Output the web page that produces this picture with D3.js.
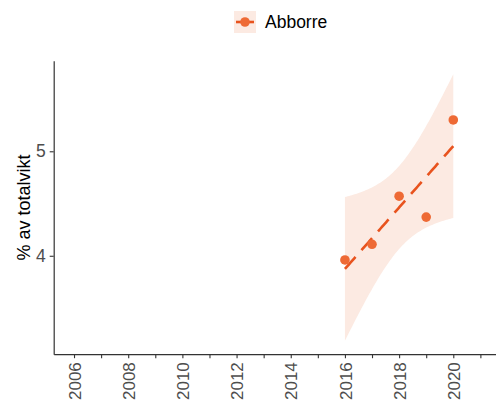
<!DOCTYPE html>
<html>
<head>
<meta charset="utf-8">
<script src="https://cdn.jsdelivr.net/npm/d3@7"></script>
<style>
  html, body { margin: 0; padding: 0; background: #fff; }
  svg { display: block; font-family: "Liberation Sans", Arial, Helvetica, sans-serif; }
</style>
</head>
<body>
<svg id="chart" width="496" height="403"></svg>
<script>
// Observations: share of total weight (%) per year
const seriesName = "Abborre";
const years = [2016, 2017, 2018, 2019, 2020];
const values = [3.96, 4.11, 4.57, 4.37, 5.30];

// Axis setup
const xTickYears = d3.range(2006, 2022);
const xLabelYears = [2006, 2008, 2010, 2012, 2014, 2016, 2018, 2020];
const yTicks = [4, 5];
const yTitle = "% av totalvikt";

// Student t quantile (97.5 %) for n - 2 = 3 degrees of freedom
const T_CRIT = 3.182446;

const pointColor = "#EE6A35";
const lineColor = "#E8531E";
const bandColor = "#FCEAE2";

// Ordinary least squares fit with 95 % confidence band
const n = years.length;
const mx = d3.mean(years), my = d3.mean(values);
const sxx = d3.sum(years, v => (v - mx) ** 2);
const sxy = d3.sum(years.map((v, i) => (v - mx) * (values[i] - my)));
const slope = sxy / sxx;
const intercept = my - slope * mx;
const fit = v => intercept + slope * v;
const sse = d3.sum(years.map((v, i) => (values[i] - fit(v)) ** 2));
const s = Math.sqrt(sse / (n - 2));
const gridX = d3.range(0, 80).map(i => years[0] + (years[n - 1] - years[0]) * i / 79);
const band = gridX.map(v => {
  const se = s * Math.sqrt(1 / n + (v - mx) ** 2 / sxx);
  return { x: v, fit: fit(v), lo: fit(v) - T_CRIT * se, hi: fit(v) + T_CRIT * se };
});

// Scales (5 % padding around the data range)
const xExt = [2006, 2021];
const xPad = (xExt[1] - xExt[0]) * 0.05;
const x = d3.scaleLinear().domain([xExt[0] - xPad, xExt[1] + xPad]).range([53.7, 500.7]);

const yLo = Math.min(d3.min(band, d => d.lo), d3.min(values));
const yHi = Math.max(d3.max(band, d => d.hi), d3.max(values));
const yPad = (yHi - yLo) * 0.05;
const y = d3.scaleLinear().domain([yLo - yPad, yHi + yPad]).range([354.2, 60.8]);

const svg = d3.select("#chart");

// Confidence band
svg.append("path")
  .datum(band)
  .attr("fill", bandColor)
  .attr("d", d3.area().x(d => x(d.x)).y0(d => y(d.lo)).y1(d => y(d.hi)));

// Fitted trend line
svg.append("path")
  .datum(band)
  .attr("fill", "none")
  .attr("stroke", lineColor)
  .attr("stroke-width", 2.6)
  .attr("stroke-dasharray", "16,9")
  .attr("d", d3.line().x(d => x(d.x)).y(d => y(d.fit)));

// Observed points
svg.append("g").selectAll("circle")
  .data(years.map((v, i) => ({ year: v, value: values[i] })))
  .join("circle")
  .attr("cx", d => x(d.year))
  .attr("cy", d => y(d.value))
  .attr("r", 4.8)
  .attr("fill", pointColor);

// Axes
const axisColor = "#333333";
const labelColor = "#4D4D4D";

const xAxis = svg.append("g")
  .attr("transform", `translate(0,${y.range()[0]})`)
  .call(d3.axisBottom(x)
    .tickValues(xTickYears)
    .tickSize(4)
    .tickSizeOuter(0)
    .tickFormat(v => xLabelYears.includes(v) ? String(v) : ""));
xAxis.select(".domain").attr("stroke", axisColor).attr("stroke-width", 1.2);
xAxis.selectAll(".tick line").attr("stroke", axisColor).attr("stroke-width", 1.1);
xAxis.selectAll(".tick text")
  .attr("transform", "rotate(-90)")
  .attr("text-anchor", "end")
  .attr("x", -8)
  .attr("y", 0)
  .attr("dy", "0.36em")
  .attr("fill", labelColor)
  .style("font-size", "17px");

const yAxis = svg.append("g")
  .attr("transform", `translate(${x.range()[0]},0)`)
  .call(d3.axisLeft(y)
    .tickValues(yTicks)
    .tickSize(4)
    .tickPadding(4)
    .tickSizeOuter(0)
    .tickFormat(d3.format("d")));
yAxis.select(".domain").attr("stroke", axisColor).attr("stroke-width", 1.2);
yAxis.selectAll(".tick line").attr("stroke", axisColor).attr("stroke-width", 1.1);
yAxis.selectAll(".tick text")
  .attr("fill", labelColor)
  .style("font-size", "17.5px");

// Y axis title
svg.append("text")
  .attr("transform", `translate(30,${(y.range()[0] + y.range()[1]) / 2}) rotate(-90)`)
  .attr("text-anchor", "middle")
  .attr("fill", "#000")
  .style("font-size", "18px")
  .text(yTitle);

// Legend
const legend = svg.append("g").attr("transform", "translate(234,11)");
legend.append("rect")
  .attr("width", 22).attr("height", 22)
  .attr("fill", bandColor);
legend.append("line")
  .attr("x1", 2).attr("x2", 20).attr("y1", 11).attr("y2", 11)
  .attr("stroke", lineColor).attr("stroke-width", 2.6);
legend.append("circle")
  .attr("cx", 11).attr("cy", 11).attr("r", 4.8)
  .attr("fill", pointColor);
legend.append("text")
  .attr("x", 31).attr("y", 11)
  .attr("dy", "0.35em")
  .attr("fill", "#000")
  .style("font-size", "17.5px")
  .text(seriesName);
</script>
</body>
</html>
